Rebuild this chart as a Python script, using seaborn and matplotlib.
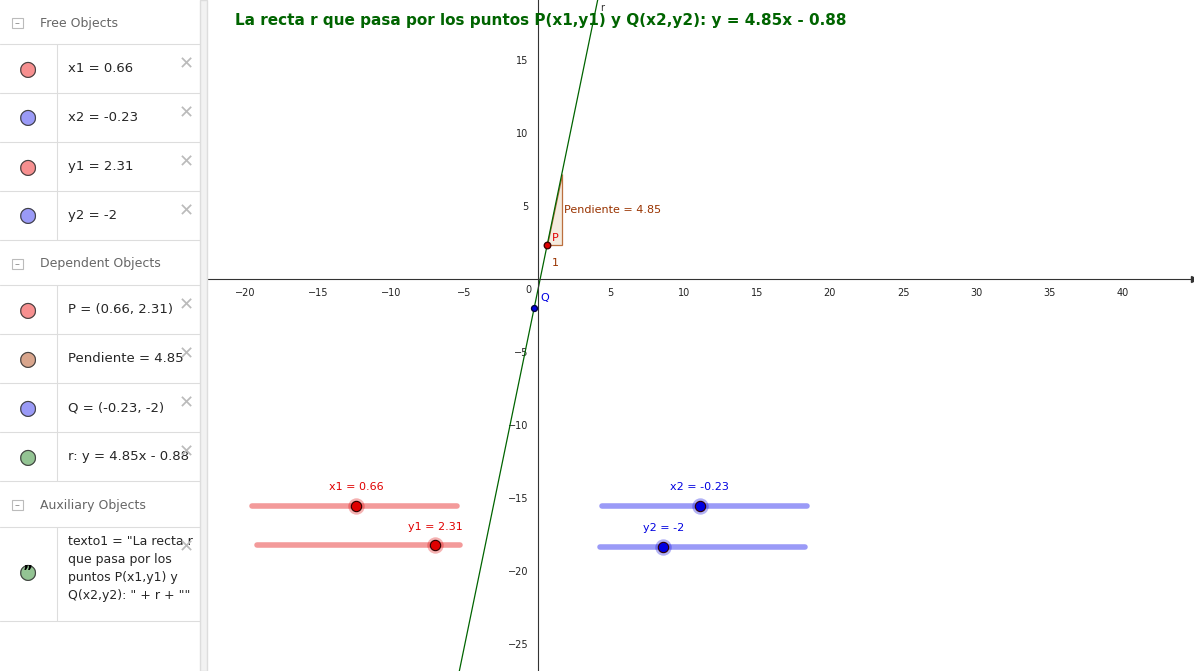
import matplotlib
matplotlib.use("Agg")
import matplotlib.pyplot as plt
import seaborn as sns
import numpy as np
from matplotlib.patches import Rectangle, Polygon

sns.set_style("white")
plt.rcParams['font.family'] = ['DejaVu Sans']

# data
x1, y1, x2, y2 = 0.66, 2.31, -0.23, -2.0
slope, intercept = 4.85, -0.88
xticks = [-20, -15, -10, -5, 5, 10, 15, 20, 25, 30, 35, 40]
yticks = [-25, -20, -15, -10, -5, 5, 10, 15]
free_rows = ["x1 = 0.66", "x2 = -0.23", "y1 = 2.31", "y2 = -2"]
free_cols = ["#f78f8f", "#9a9af7", "#f78f8f", "#9a9af7"]
dep_rows = ["P = (0.66, 2.31)", "Pendiente = 4.85", "Q = (-0.23, -2)", "r: y = 4.85x - 0.88"]
dep_cols = ["#f78f8f", "#d9a58c", "#9a9af7", "#93c493"]
aux_text = 'texto1 = "La recta r\nque pasa por los\npuntos P(x1,y1) y\nQ(x2,y2): " + r + ""'

W, H = 1194, 671
fig = plt.figure(figsize=(W/100, H/100), dpi=100)

def fy(py): return 1 - py/H
def fx(px): return px/W

ax = fig.add_axes([fx(208), 0, fx(W-208), 1])
xmin, xmax = (208-537.5)/14.62, (W-537.5)/14.62
ymax, ymin = 279/14.62, -(H-279)/14.62
ax.set_xlim(xmin, xmax); ax.set_ylim(ymin, ymax)
ax.spines['left'].set_position(('data', 0))
ax.spines['bottom'].set_position(('data', 0))
ax.spines['right'].set_visible(False); ax.spines['top'].set_visible(False)
for s in ['left', 'bottom']:
    ax.spines[s].set_color('#333333'); ax.spines[s].set_linewidth(0.8)
ax.set_xticks(xticks); ax.set_yticks(yticks)
ax.tick_params(labelsize=7, length=3, direction='out', colors='#222222')
ax.text(-0.4, -0.4, "0", fontsize=7, ha='right', va='top')
ax.plot(1, 0, ">", ms=5, color='#333333', transform=ax.get_yaxis_transform(), clip_on=False)

xs = np.array([xmin, xmax])
sns.lineplot(x=xs, y=slope*xs+intercept, ax=ax, color='#006400', lw=0.9)
ax.text(4.3, 18.9, "r", fontsize=7, color='#333333', va='top')

tri = Polygon([[x1, y1], [x1+1, y1], [x1+1, y1+slope]], closed=True,
              facecolor='#f3e9dc', edgecolor='#b5602b', lw=0.9, alpha=0.9)
ax.add_patch(tri)
ax.text(1.8, 4.5, "Pendiente = 4.85", fontsize=8, color='#993300')
ax.text(1.0, 0.9, "1", fontsize=8, color='#993300')

ax.scatter([x1], [y1], s=22, color='#e00000', edgecolor='#400000', zorder=5)
ax.text(x1+0.3, y1+0.3, "P", fontsize=8, color='#e00000')
ax.scatter([x2], [y2], s=18, color='#0000e0', edgecolor='#000040', zorder=5)
ax.text(x2+0.4, y2+0.5, "Q", fontsize=8, color='#0000e0')

ax.text(0.2, (279-21)/14.62, "La recta r que pasa por los puntos P(x1,y1) y Q(x2,y2): y = 4.85x - 0.88",
        fontsize=11, fontweight='bold', color='#006400', ha='center', va='center')

sliders = [(-19.5, -5.5, -15.5, -12.4, "x1 = 0.66", '#f39a9a', '#e00000'),
           (-19.2, -5.3, -18.2, -7.0, "y1 = 2.31", '#f39a9a', '#e00000'),
           (4.4, 18.4, -15.5, 11.1, "x2 = -0.23", '#9a9af7', '#0000e0'),
           (4.3, 18.3, -18.3, 8.6, "y2 = -2", '#9a9af7', '#0000e0')]
for a, b, yy, k, lab, lc, kc in sliders:
    ax.plot([a, b], [yy, yy], color=lc, lw=4, solid_capstyle='round')
    ax.scatter([k], [yy], s=140, color=kc, alpha=0.3, zorder=5, lw=0)
    ax.scatter([k], [yy], s=55, color=kc, edgecolor='#300000', lw=0.8, zorder=6)
    ax.text(k, yy+0.9, lab, fontsize=8, color=kc, ha='center', va='bottom')

fig.add_artist(Rectangle((0, 0), fx(200), 1, transform=fig.transFigure, color='white'))
fig.add_artist(Rectangle((fx(200), 0), fx(7), 1, transform=fig.transFigure, color='#f2f2f2', ec='#dddddd'))

def hline(py, x0=0, x1_=200):
    fig.add_artist(plt.Line2D([fx(x0), fx(x1_)], [fy(py), fy(py)], color='#dddddd', lw=0.8))

def header(py, text):
    fig.add_artist(Rectangle((fx(12), fy(py+5)), fx(11), 10/H, transform=fig.transFigure,
                             fc='white', ec='#bbbbbb', lw=0.8))
    fig.text(fx(14.5), fy(py), "–", fontsize=7, color='#888888', va='center')
    fig.text(fx(40), fy(py), text, fontsize=9, color='#666666', va='center')

def row(top, bot, text, col, quote=False):
    hline(top)
    fig.add_artist(plt.Line2D([fx(57), fx(57)], [fy(top), fy(bot)], color='#dddddd', lw=0.8))
    cy = (top+bot)/2 if not quote else top+45
    fig.text(fx(28), fy(cy), "●", fontsize=15, color=col, ha='center', va='center')
    fig.text(fx(28), fy(cy), "○", fontsize=15, color='#444444', ha='center', va='center')
    if quote:
        fig.text(fx(28), fy(cy), "\u201d", fontsize=11, color='black', ha='center', va='center', fontweight='bold')
        fig.text(fx(68), fy(top+8), text, fontsize=9, va='top', linespacing=1.5)
    else:
        fig.text(fx(68), fy(cy), text, fontsize=9.5, va='center')
    fig.text(fx(186), fy(top+20), "✕", fontsize=13, color='#bbbbbb', ha='center', va='center')

header(23, "Free Objects")
for t, txt, c in zip([44, 93, 142, 191], free_rows, free_cols):
    row(t, t+49, txt, c)
hline(240)
header(264, "Dependent Objects")
for t, txt, c in zip([285, 334, 383, 432], dep_rows, dep_cols):
    row(t, t+49, txt, c)
hline(481)
header(505, "Auxiliary Objects")
row(527, 621, aux_text, '#93c493', quote=True)
hline(621)

fig.savefig("out.png", dpi=100)
